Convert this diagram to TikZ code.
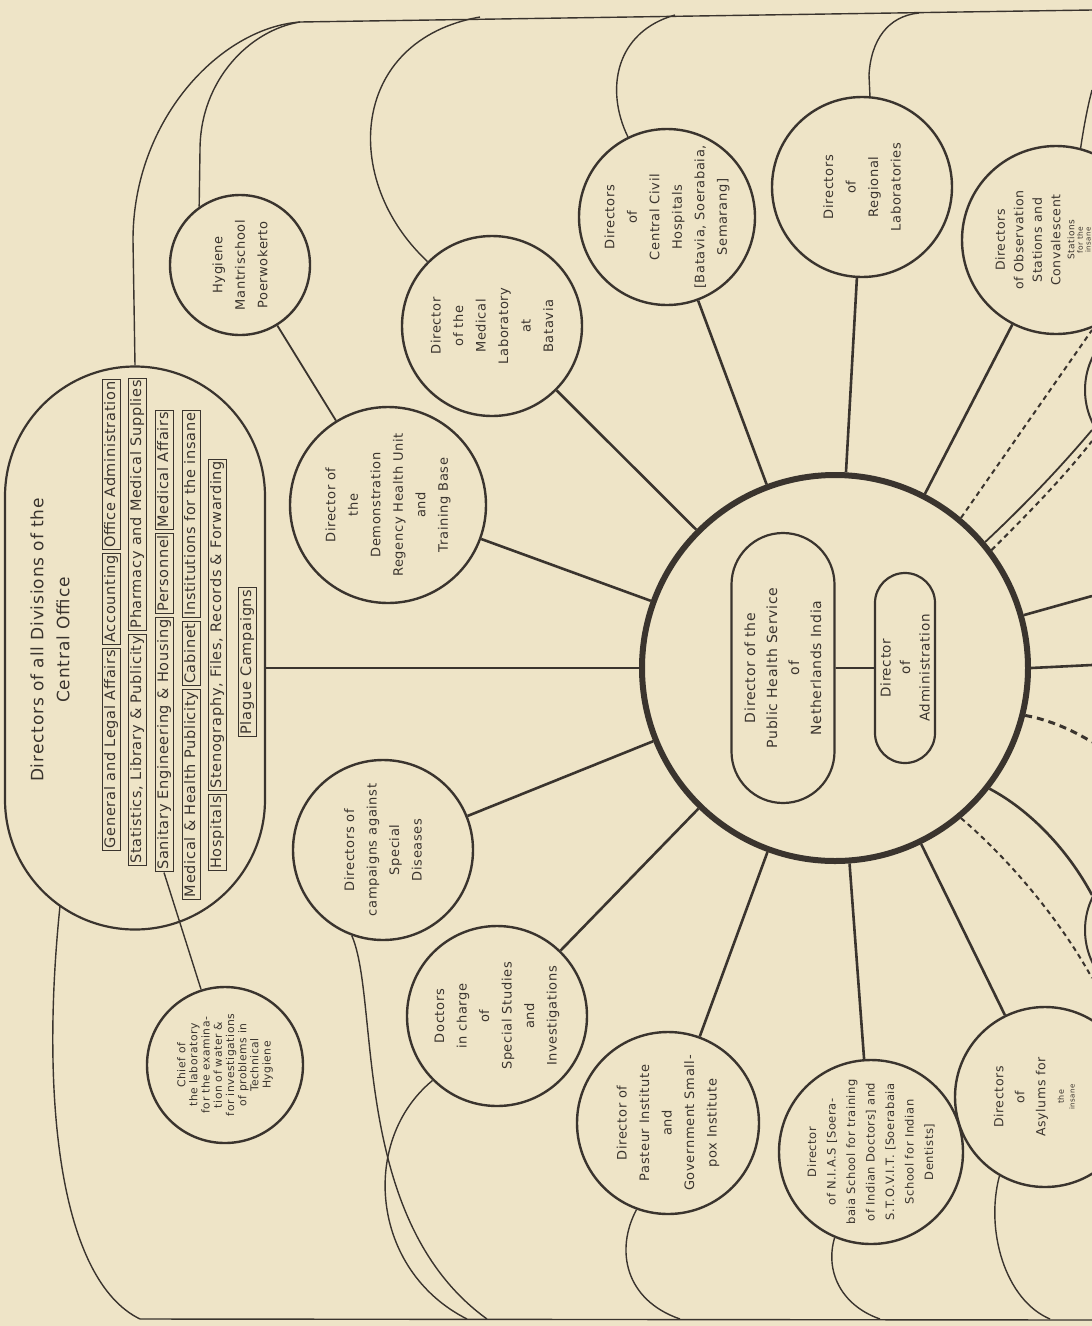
\documentclass[tikz,border=0pt]{standalone}
\usepackage{fontspec}
\setmainfont{DejaVu Sans}[LetterSpace=5.0]
\usetikzlibrary{shapes.misc}
\definecolor{paper}{HTML}{EEE4C7}
\definecolor{ink}{HTML}{3A342E}
\newcommand\dv[1]{\fbox{\vphantom{Agy}#1}}
\setlength\fboxsep{1.5pt}
\setlength\fboxrule{0.9pt}
\begin{document}
\begin{tikzpicture}[x=1pt,y=-1pt,
  circ/.style={circle, draw=ink, line width=2.4pt, inner sep=0pt},
  stad/.style={rounded rectangle, draw=ink, line width=2.2pt, inner sep=0pt, rotate=90, align=center, text=ink},
  spoke/.style={draw=ink, line width=2.6pt},
  thinl/.style={draw=ink, line width=1.4pt},
  dashline/.style={draw=ink, line width=2pt, dash pattern=on 5pt off 4pt},
  divcol/.style={rotate=90, inner sep=0pt, text=ink, font=\fontsize{14.5}{16}\selectfont},
  lbl/.style={rotate=90, align=center, text=ink, inner sep=0pt, font=\fontsize{13}{22.5}\selectfont}
]
\useasboundingbox (0,0) rectangle (1092,1326);
\fill[paper] (0,0) rectangle (1092,1326);
\clip (0,0) rectangle (1092,1326);

% hub
\node[circle, draw=ink, line width=6pt, minimum size=386pt, inner sep=0pt] (hub) at (835,668) {};
\node[stad, minimum width=270pt, minimum height=103pt, font=\fontsize{14}{22}\selectfont] (phs) at (783,668) {Director of the\\Public Health Service\\of\\Netherlands India};
\node[stad, minimum width=190pt, minimum height=60pt, font=\fontsize{13.5}{19.5}\selectfont] (adm) at (905,668) {Director\\of\\Administration};
\draw[thinl, line width=1.8pt] (phs) -- (adm);

% central office box
\node[stad, minimum width=563pt, minimum height=260pt] (cob) at (135,648) {};
\node[lbl, font=\fontsize{17}{26}\selectfont] (ttl) at (50,640) {Directors of all Divisions of the\\Central Office};
\node[divcol] (dc1) at (111,615) {\dv{General and Legal Affairs}\hspace{3pt}\dv{Accounting}\hspace{3pt}\dv{Office Administration}};
\node[divcol] (dc2) at (137,622) {\dv{Statistics, Library \& Publicity}\hspace{3pt}\dv{Pharmacy and Medical Supplies}};
\node[divcol] (dc3) at (164,641) {\dv{Sanitary Engineering \& Housing}\hspace{3pt}\dv{Personnel}\hspace{3pt}\dv{Medical Affairs}};
\node[divcol] (dc4) at (191,655) {\dv{Medical \& Health Publicity}\hspace{3pt}\dv{Cabinet}\hspace{3pt}\dv{Institutions for the insane}};
\node[divcol] (dc5) at (217,665) {\dv{Hospitals}\hspace{3pt}\dv{Stenography, Files, Records \& Forwarding}};
\node[divcol] (dc6) at (247,662) {\dv{Plague Campaigns}};

% outer circles
\node[circ, minimum size=140pt] (hyg) at (240,265) {};
\node[lbl] (hygt) at (hyg) {Hygiene\\Mantrischool\\Poerwokerto};
\node[circ, minimum size=196pt] (demo) at (388,505) {};
\node[lbl] (demot) at (demo) {Director of\\the\\Demonstration\\Regency Health Unit\\and\\Training Base};
\node[circ, minimum size=180pt] (ml) at (492,326) {};
\node[lbl] (mlt) at (ml) {Director\\of the\\Medical\\Laboratory\\at\\Batavia};
\node[circ, minimum size=176pt] (cch) at (667,217) {};
\node[lbl] (ccht) at (cch) {Directors\\of\\Central Civil\\Hospitals\\{}[Batavia, Soerabaia,\\Semarang]};
\node[circ, minimum size=180pt] (rl) at (862,187) {};
\node[lbl] (rlt) at (rl) {Directors\\of\\Regional\\Laboratories};
\node[circ, minimum size=188pt] (obs) at (1056,240) {};
\node[lbl, font=\fontsize{12.5}{18.5}\selectfont] (obst) at (1028,240) {Directors\\of Observation\\Stations and\\Convalescent};
\node[lbl, font=\fontsize{9}{9}\selectfont] (obs5) at (1071,240) {Stations};
\node[lbl, font=\fontsize{7.5}{8}\selectfont] (obs6) at (1080,240) {for the};
\node[lbl, font=\fontsize{7}{8}\selectfont] (obs7) at (1088,240) {insane};
\node[circ, minimum size=180pt] (camp) at (383,850) {};
\node[lbl] (campt) at (camp) {Directors of\\campaigns against\\Special\\Diseases};
\node[circ, minimum size=180pt] (doc) at (497,1016) {};
\node[lbl] (doct) at (doc) {Doctors\\in charge\\of\\Special Studies\\and\\Investigations};
\node[circ, minimum size=182pt] (past) at (668,1123) {};
\node[lbl] (pastt) at (past) {Director of\\Pasteur Institute\\and\\Government Small-\\pox Institute};
\node[circ, minimum size=184pt] (nias) at (871,1152) {};
\node[lbl, font=\fontsize{11.5}{19.5}\selectfont] (niast) at (nias) {Director\\of N.I.A.S [Soera-\\baia School for training\\of Indian Doctors] and\\S.T.O.V.I.T. [Soerabaia\\School for Indian\\Dentists]};
\node[circ, minimum size=180pt] (asy) at (1045,1097) {};
\node[lbl, font=\fontsize{12.5}{21}\selectfont] (asyt) at (1021,1097) {Directors\\of\\Asylums for};
\node[lbl, font=\fontsize{8}{8}\selectfont] (asy4) at (1061,1097) {the};
\node[lbl, font=\fontsize{7}{7}\selectfont] (asy5) at (1072,1097) {insane};
\node[circ, minimum size=156pt] (chief) at (225,1065) {};
\node[lbl, font=\fontsize{10.8}{12.2}\selectfont] (chieft) at (chief) {Chief of\\the laboratory\\for the examina-\\tion of water \&\\for investigations\\of problems in\\Technical\\Hygiene};
\node[circ, line width=2pt, minimum size=150pt] (sl1) at (1160,390) {};
\node[circ, line width=2pt, minimum size=150pt] (sl2) at (1160,930) {};

% spokes
\draw[spoke] (hub.180) -- (hub.180 -| cob.south);
\draw[spoke] (hub) -- (demo);
\draw[spoke] (hub) -- (ml);
\draw[spoke] (hub) -- (cch);
\draw[spoke] (hub) -- (rl);
\draw[spoke] (hub) -- (obs);
\draw[spoke] (hub) -- (camp);
\draw[spoke] (hub) -- (doc);
\draw[spoke] (hub) -- (past);
\draw[spoke] (hub) -- (nias);
\draw[spoke] (hub) -- (asy);
\draw[thinl, line width=1.8pt] (hyg) -- (demo);
\draw[thinl] (dc3.west) -- (chief);

% right-edge connectors
\coordinate (e1) at (1092,330);
\coordinate (e2) at (1092,430);
\coordinate (e2b) at (1092,441);
\coordinate (e3) at (1092,596);
\coordinate (e4) at (1092,665);
\coordinate (e5) at (1092,742);
\coordinate (e6) at (1092,895);
\coordinate (e7) at (1092,978);
\draw[dashline] (hub.50) -- (e1);
\draw[thinl, line width=1.8pt] (hub.40) .. controls (1030,500) and (1065,462) .. (e2);
\draw[dashline] (hub.37) .. controls (1034,508) and (1068,472) .. (e2b);
\draw[spoke] (hub) -- (e3);
\draw[spoke] (hub.0) -- (e4);
\draw[dashline, line width=3pt, dash pattern=on 7pt off 5pt] (hub.-14) .. controls (1050,720) and (1072,730) .. (e5);
\draw[spoke] (hub.-38) .. controls (1030,810) and (1068,850) .. (e6);
\draw[dashline] (hub.-50) .. controls (1010,860) and (1060,920) .. (e7);

% border lines and petal curves
\coordinate (tl) at (300,22);
\coordinate (tr) at (1092,10);
\coordinate (bl) at (140,1319);
\coordinate (br) at (1092,1320);
\draw[thinl] (tl) -- (tr);
\draw[thinl] (bl) -- (br);
\draw[thinl] (cob.east) -- (133,240) .. controls (133,120) and (220,28) .. (tl);
\draw[thinl] (hyg.125) -- (200,150) .. controls (200,80) and (250,30) .. (tl);
\draw[thinl] (ml.135) .. controls (340,180) and (350,40) .. (480,17);
\draw[thinl] (cch.116) .. controls (605,90) and (615,32) .. (675,15);
\draw[thinl] (rl.85) -- (869,75) .. controls (871,40) and (888,16) .. (919,13);
\draw[thinl] (obs.75) .. controls (1084,125) and (1088,105) .. (1092,90);
\draw[thinl] (60,906) .. controls (40,1100) and (60,1280) .. (bl);
\draw[thinl] (camp.-110) .. controls (380,1000) and (350,1220) .. (487,1319);
\draw[thinl] (doc.-135) .. controls (360,1140) and (370,1270) .. (467,1319);
\draw[thinl] (past.-110) .. controls (615,1250) and (625,1300) .. (680,1319);
\draw[thinl] (nias.-113) .. controls (825,1270) and (840,1305) .. (880,1319);
\draw[thinl] (asy.-120) .. controls (985,1230) and (1005,1300) .. (1050,1319);
\end{tikzpicture}
\end{document}
